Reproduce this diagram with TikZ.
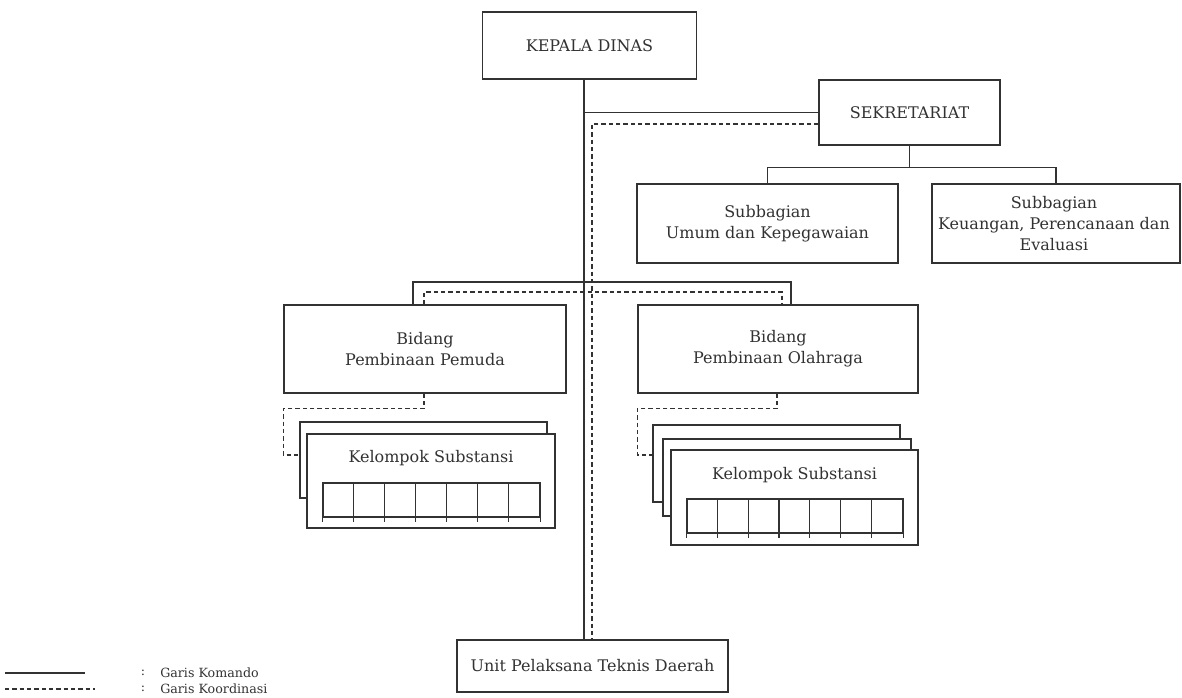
\documentclass[tikz,border=0pt]{standalone}
\usepackage{fontspec}
\setmainfont{DejaVu Serif}
\usetikzlibrary{calc}
\definecolor{ink}{RGB}{50,50,50}
\begin{document}
\begin{tikzpicture}[x=0.75pt,y=-0.75pt,
  wh/.style 2 args={minimum width=#1*0.75pt, minimum height=#2*0.75pt},
  box/.style={draw=ink, line width=1.05pt, inner sep=0pt, align=center, text=ink,
    font=\fontsize{12}{15.5}\selectfont, fill=white},
  txt/.style={inner sep=0pt, text=ink, font=\fontsize{12}{15.5}\selectfont, align=center},
  legtxt/.style={inner sep=0pt, text=ink, font=\fontsize{9.5}{12}\selectfont},
  cmd/.style={draw=ink, line width=1.05pt},
  crd/.style={draw=ink, line width=1.05pt, dash pattern=on 3.2pt off 2.3pt}]
\useasboundingbox (0,0) rectangle (1182,698);
% reference coordinates
\coordinate (spine) at (584,0);
\coordinate (dspine) at (592,0);
\coordinate (bus) at (584,282);
\coordinate (dbus) at (592,292);
% boxes
\node[box, wh={214}{67}] (kd) at (589.5,45.5) {KEPALA DINAS};
\node[box, wh={181}{65}] (sek) at (909.5,112.5) {SEKRETARIAT};
\node[box, wh={261}{79}] (sub1) at (767.5,223.5) {Subbagian\\Umum dan Kepegawaian};
\node[box, wh={248}{79}] (sub2) at (1056,223.5) {};
\node[txt] (sub2t) at (1054,223.5) {Subbagian\\Keuangan, Perencanaan dan\\Evaluasi};
\node[box, wh={282}{88}] (bp) at (425,349) {Bidang\\Pembinaan Pemuda};
\node[box, wh={280}{88}] (bo) at (778,349) {Bidang\\Pembinaan Olahraga};
\node[box, wh={271}{52}] (unit) at (592.5,666) {Unit Pelaksana Teknis Daerah};
% kelompok substansi (left)
\node[box, wh={247}{76}] (kp1) at (423.5,460) {};
\node[box, wh={248}{94}] (kp2) at (431,481) {};
\node[txt] (kpt) at (431,458) {Kelompok Substansi};
\node[draw=ink, line width=0.9pt, inner sep=0pt, wh={217}{34}] (kpg) at (431.5,500) {};
\foreach \i in {1,...,6} {
  \draw[ink, line width=0.9pt] ($(kpg.north west)+(31*\i,0)$) -- ($(kpg.south west)+(31*\i,4)$);
}
\draw[ink, line width=0.9pt] (kpg.south west) -- ++(0,4);
\draw[ink, line width=0.9pt] (kpg.south east) -- ++(0,4);
% kelompok substansi (right)
\node[box, wh={247}{77}] (ko1) at (776.5,463.5) {};
\node[box, wh={248}{77}] (ko2) at (787,477.5) {};
\node[box, wh={247}{95}] (ko3) at (794.5,497.5) {};
\node[txt] (kot) at (794.5,475) {Kelompok Substansi};
\node[draw=ink, line width=0.9pt, inner sep=0pt, wh={216}{34}] (kog) at (795,516) {};
\foreach \i in {1,...,6} {
  \draw[ink, line width=0.9pt] ($(kog.north west)+(30.86*\i,0)$) -- ($(kog.south west)+(30.86*\i,4)$);
}
\draw[ink, line width=0.9pt] (kog.south west) -- ++(0,4);
\draw[ink, line width=0.9pt] (kog.south east) -- ++(0,4);
% command lines
\draw[cmd] (kd.south -| spine) -- (unit.north -| spine);
\draw[cmd] (sek.west -| spine) -- (sek.west);
\draw[cmd] (sek.south) -- ++(0,22);
\draw[cmd] (sub1.north) |- ($(sek.south)+(0,22)$) -| (sub2.north);
\draw[cmd] ($(bp.north)+(-12,0)$) |- (bus) -| ($(bo.north)+(13,0)$);
% coordination lines
\draw[crd] ($(sek.west)+(0,11.5)$) -| (unit.north -| dspine);
\draw[crd] ($(bp.north)+(-1,0)$) |- (dbus) -| ($(bo.north)+(4,0)$);
\draw[crd] ($(bp.south)+(-1,0)$) -- ++(0,15) -| ($(kp1.west)+(-16,-5)$) -- ($(kp1.west)+(0,-5)$);
\draw[crd] ($(bo.south)+(-1,0)$) -- ++(0,15) -| ($(ko1.west)+(-15,-8.5)$) -- ($(ko1.west)+(0,-8.5)$);
% legend
\coordinate (l1a) at (5,673);
\coordinate (l1b) at (85,673);
\coordinate (l2a) at (5,689);
\coordinate (l2b) at (95,689);
\draw[cmd] (l1a) -- (l1b);
\draw[crd] (l2a) -- (l2b);
\node[legtxt] (c1) at (143,673) {:};
\node[legtxt] (c2) at (143,689) {:};
\node[legtxt, anchor=west] (g1) at (160,673) {Garis Komando};
\node[legtxt, anchor=west] (g2) at (160,689) {Garis Koordinasi};
\end{tikzpicture}
\end{document}
